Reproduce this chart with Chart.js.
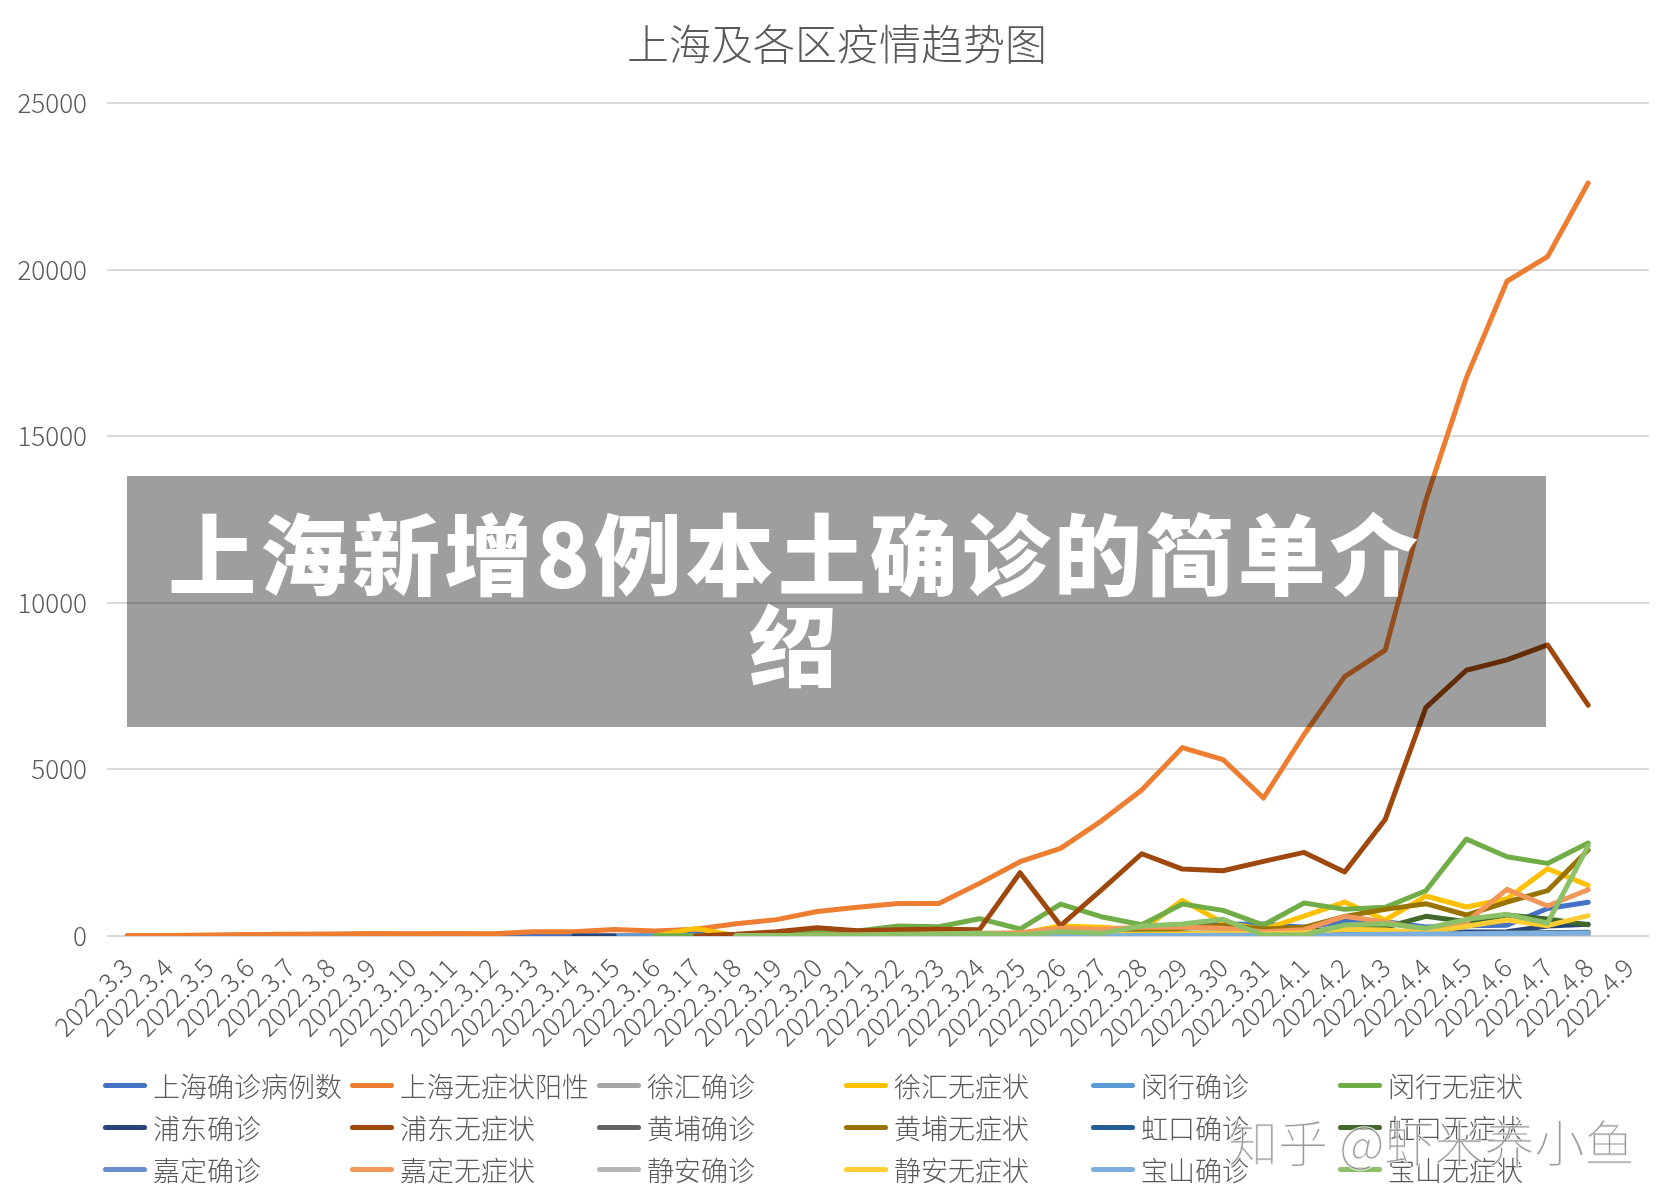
<!DOCTYPE html>
<html>
<head>
<meta charset="utf-8">
<script src="https://cdn.jsdelivr.net/npm/chart.js@4/dist/chart.umd.min.js"></script>
<style>
  body { margin: 0; background: #fff; }
  #wrap { position: relative; width: 1674px; height: 1203px; overflow: hidden; }
  #legend { position: absolute; left: 0; top: 0; }
  .item { position: absolute; display: flex; align-items: center; height: 36px;
          font: 300 27px "Noto Sans CJK SC", "Noto Sans", sans-serif; color: #595959; white-space: nowrap; }
  .item i { display: inline-block; width: 44px; height: 5px; border-radius: 3px; margin-right: 6px; }
  #banner { position: absolute; left: 127px; top: 476px; width: 1419px; height: 251px; background: rgba(0,0,0,0.38); }
  #banner div { position: absolute; left: 18px; top: 28px; width: 1300px; text-align: center; white-space: nowrap;
                font: 900 88px/91px "Noto Sans CJK SC", sans-serif; letter-spacing: 4px; color: #fff; }
  #mark { position: absolute; left: 1228px; top: 1104px; font: 300 50px "Noto Sans CJK SC", sans-serif;
          color: rgba(120,120,120,0.75); -webkit-text-stroke: 1px rgba(255,255,255,0.8); white-space: nowrap; }
</style>
</head>
<body>
<div id="wrap">
  <canvas id="chart" width="1674" height="1203"></canvas>
  <div id="legend"></div>
  <div id="banner"><div>上海新增8例本土确诊的简单介<br>绍</div></div>
  <div id="mark">知乎 @虾米养小鱼</div>
</div>
<script>
const N = null;
const labels = [
    "2022.3.3", "2022.3.4", "2022.3.5", "2022.3.6", "2022.3.7", "2022.3.8", "2022.3.9", "2022.3.10",
    "2022.3.11", "2022.3.12", "2022.3.13", "2022.3.14", "2022.3.15", "2022.3.16", "2022.3.17", "2022.3.18",
    "2022.3.19", "2022.3.20", "2022.3.21", "2022.3.22", "2022.3.23", "2022.3.24", "2022.3.25", "2022.3.26",
    "2022.3.27", "2022.3.28", "2022.3.29", "2022.3.30", "2022.3.31", "2022.4.1", "2022.4.2", "2022.4.3",
    "2022.4.4", "2022.4.5", "2022.4.6", "2022.4.7", "2022.4.8", "2022.4.9",
];

// index 0 = 3.3 ... 36 = 4.8 (4.9 has no data)
const shConfirmed = [2, 3, 0, 3, 4, 3, 4, 11, 5, 1, 41, 9, 5, 8, 57, 8, 17, 24, 31, 4, 4, 29, 38, 45, 50, 96, 326, 355, 358, 260, 438, 425, 268, 311, 322, 824, 1015];
const shAsym = [14, 16, 28, 45, 51, 62, 76, 64, 78, 64, 128, 130, 197, 150, 203, 366, 492, 734, 865, 977, 979, 1580, 2231, 2631, 3450, 4381, 5656, 5298, 4144, 6051, 7788, 8581, 13086, 16766, 19660, 20398, 22609];
const xuhuiConfirmed = [N, N, N, N, N, N, N, N, N, N, N, 0, 0, 2, 3, 1, 2, 3, 5, 4, 3, 6, 8, 10, 12, 15, 20, 30, 40, 35, 30, 45, 50, 60, 55, 80, 90];
const xuhuiAsym = [N, N, N, N, N, N, N, N, N, N, N, N, N, 0, 230, 10, 20, 30, 40, 50, 60, 70, 80, 300, 260, 180, 1070, 400, 200, 600, 1020, 480, 1200, 870, 1120, 2020, 1520];
const minhangConfirmed = [N, N, N, N, N, N, N, N, N, N, N, N, 0, 0, 2, 5, 3, 4, 5, 6, 4, 8, 10, 12, 10, 15, 20, 25, 20, 30, 35, 30, 40, 45, 40, 50, 55];
const minhangAsym = [N, N, N, N, N, N, N, N, N, N, N, N, N, 0, 0, 40, 80, 120, 150, 300, 280, 520, 210, 960, 580, 340, 960, 770, 330, 990, 800, 860, 1360, 2910, 2380, 2180, 2790];
const pudongConfirmed = [N, N, N, N, N, N, N, N, N, N, N, 0, 0, N, N, 2, 3, 5, 4, 3, 6, 8, 10, 12, 15, 20, 40, 45, 60, 50, 70, 80, 100, 120, 130, 300, 350];
const pudongAsym = [N, N, N, N, N, N, N, N, N, N, N, N, N, N, 0, 50, 130, 250, 160, 190, 200, 190, 1900, 310, 1380, 2470, 2010, 1960, 2240, 2510, 1920, 3500, 6860, 7980, 8290, 8740, 6930];
const huangpuConfirmed = [N, N, N, N, N, N, N, N, N, N, N, N, N, N, N, 0, 1, 2, 3, 2, 4, 5, 6, 8, 10, 12, 15, 20, 25, 30, 40, 50, 60, 70, 90, 100, 110];
const huangpuAsym = [N, N, N, N, N, N, N, N, N, N, N, N, N, N, N, 0, 10, 20, 25, 30, 40, 60, 50, 100, 120, 150, 230, 320, 210, 260, 590, 800, 970, 630, 1020, 1360, 2580];
const hongkouConfirmed = [N, N, N, N, N, N, N, N, N, N, N, N, N, N, N, 0, 1, 1, 2, 2, 3, 4, 5, 6, 8, 10, 12, 15, 18, 20, 30, 40, 50, 60, 70, 90, 100];
const hongkouAsym = [N, N, N, N, N, N, N, N, N, N, N, N, N, N, N, 0, 5, 10, 15, 20, 25, 30, 40, 50, 60, 70, 80, 90, 100, 150, 200, 260, 590, 430, 630, 510, 340];
const jiadingConfirmed = [N, N, N, N, N, N, N, N, N, N, N, N, N, N, N, 0, 1, 2, 2, 3, 3, 4, 5, 6, 8, 10, 12, 15, 20, 25, 30, 40, 35, 50, 60, 70, 80];
const jiadingAsym = [N, N, N, N, N, N, N, N, N, N, N, N, N, N, N, 0, 10, 20, 30, 40, 60, 80, 100, 230, 200, 260, 260, 230, 130, 190, 590, 420, 180, 420, 1400, 900, 1390];
const jinganConfirmed = [N, N, N, N, N, N, N, N, N, N, N, N, N, N, N, 0, 0, 1, 1, 2, 2, 3, 4, 5, 6, 8, 10, 12, 15, 18, 20, 25, 30, 35, 40, 50, 60];
const jinganAsym = [N, N, N, N, N, N, N, N, N, N, N, N, N, N, N, 0, 5, 10, 10, 15, 20, 25, 30, 40, 50, 60, 70, 80, 60, 100, 200, 180, 90, 290, 480, 310, 610];
const baoshanConfirmed = [N, N, N, N, N, N, N, N, N, N, N, N, N, N, N, 0, 1, 2, 2, 3, 4, 5, 6, 8, 10, 12, 15, 20, 20, 25, 30, 50, 60, 70, 80, 80, 90];
const baoshanAsym = [N, N, N, N, N, N, N, N, N, N, N, N, N, N, N, 0, 10, 20, 30, 50, 60, 80, 30, 130, 80, 300, 360, 500, 30, 30, 330, 370, 230, 500, 650, 390, 2700];

const seriesNames = [
    "上海确诊病例数", "上海无症状阳性", "徐汇确诊", "徐汇无症状", "闵行确诊", "闵行无症状",
    "浦东确诊", "浦东无症状", "黄埔确诊", "黄埔无症状", "虹口确诊", "虹口无症状",
    "嘉定确诊", "嘉定无症状", "静安确诊", "静安无症状", "宝山确诊", "宝山无症状",
];
const seriesData = [
    shConfirmed, shAsym, xuhuiConfirmed, xuhuiAsym, minhangConfirmed, minhangAsym,
    pudongConfirmed, pudongAsym, huangpuConfirmed, huangpuAsym, hongkouConfirmed, hongkouAsym,
    jiadingConfirmed, jiadingAsym, jinganConfirmed, jinganAsym, baoshanConfirmed, baoshanAsym,
];
const colors = [
    "#4472C4", "#ED7D31", "#A5A5A5", "#FFC000", "#5B9BD5", "#70AD47",
    "#264478", "#9E480E", "#636363", "#997300", "#255E91", "#43682B",
    "#698ED0", "#F1975A", "#B7B7B7", "#FFCD33", "#7CAFDD", "#8CC168",
];

const font = "'Noto Sans CJK SC', 'Noto Sans', sans-serif";

const datasets = seriesNames.map((name, i) => ({
    label: name,
    data: seriesData[i],
    borderColor: colors[i],
    backgroundColor: colors[i],
    order: seriesNames.length - i, // later series drawn on top
}));

const chart = new Chart(document.querySelector("#chart").getContext("2d"), {
    type: "line",
    data: { labels: labels, datasets: datasets },
    options: {
        responsive: false,
        animation: false,
        layout: { padding: 0 },
        elements: {
            line: { borderWidth: 5, tension: 0, borderCapStyle: "round", borderJoinStyle: "round", fill: false },
            point: { radius: 0, hoverRadius: 0 },
        },
        scales: {
            x: {
                offset: true,
                grid: { display: false },
                border: { display: false },
                ticks: {
                    autoSkip: false, maxRotation: 45, minRotation: 45, padding: 8,
                    color: "#595959", font: { family: font, size: 26, weight: 300 },
                },
                afterFit: (s) => { s.height = 267; },
            },
            y: {
                min: 0, max: 25000,
                grid: { color: "#d9d9d9", lineWidth: 2, drawTicks: false },
                border: { display: false },
                ticks: {
                    stepSize: 5000, padding: 20,
                    color: "#595959", font: { family: font, size: 26, weight: 300 },
                    callback: (v) => String(v),
                },
                afterFit: (s) => { s.width = 107; },
            },
            // empty right margin so the title stays centred on the page
            yRight: {
                position: "right",
                grid: { display: false },
                border: { display: false },
                ticks: { display: false },
                afterFit: (s) => { s.width = 25; },
            },
        },
        plugins: {
            legend: { display: false },
            tooltip: { enabled: false },
            title: {
                display: true,
                text: "上海及各区疫情趋势图",
                color: "#595959",
                font: { family: font, size: 42, weight: 300 },
                padding: { top: 19, bottom: 34 },
            },
        },
    },
});

// legend laid out as a 6-column grid, like the original
const legendBox = document.querySelector("#legend");
chart.data.datasets.forEach((ds, i) => {
    const item = document.createElement("div");
    item.className = "item";
    item.style.left = (103 + (i % 6) * 247) + "px";
    item.style.top = (1067 + Math.floor(i / 6) * 42) + "px";
    const mark = document.createElement("i");
    mark.style.background = ds.borderColor;
    item.appendChild(mark);
    item.appendChild(document.createTextNode(ds.label));
    legendBox.appendChild(item);
});
</script>
</body>
</html>
